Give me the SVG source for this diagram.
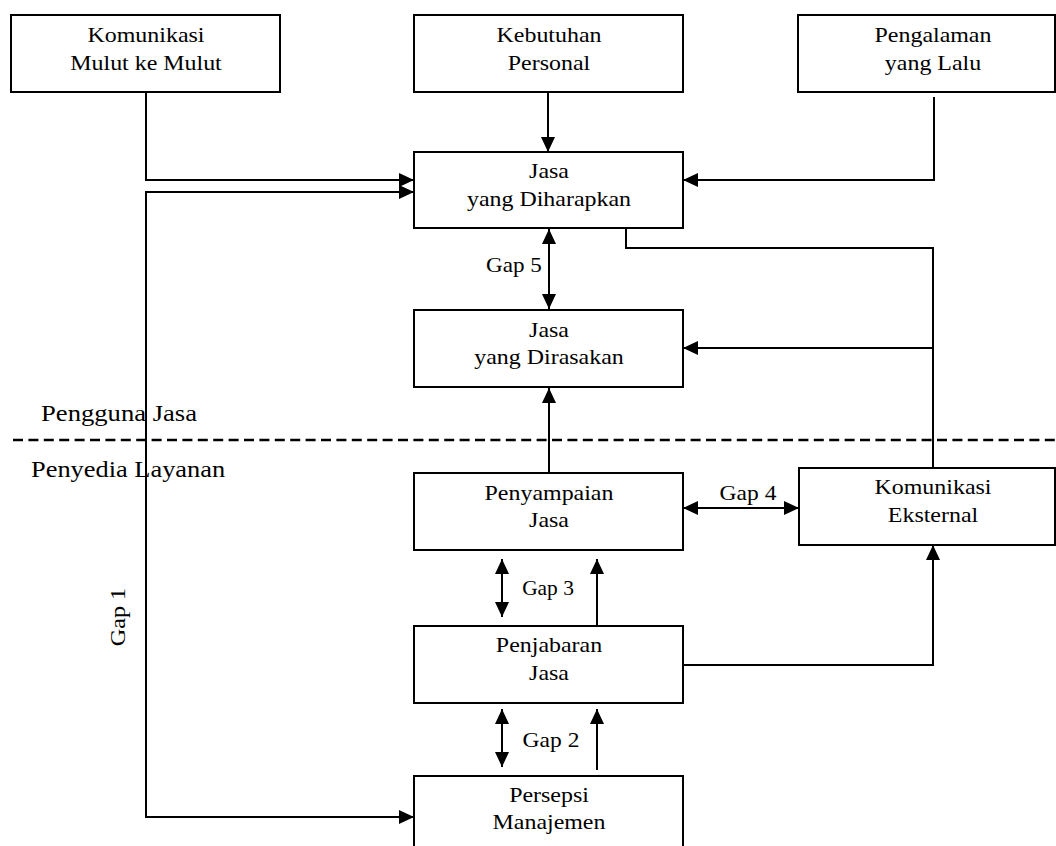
<svg xmlns="http://www.w3.org/2000/svg" width="1056" height="846" viewBox="0 0 1056 846">
<style>
.box{fill:#fff;stroke:#000;stroke-width:2}
.t{font-family:"Liberation Serif","Times New Roman",serif;font-size:21px;fill:#000;text-anchor:middle}
.l{font-family:"Liberation Serif","Times New Roman",serif;font-size:24px;fill:#000;text-anchor:start}
.c{fill:none;stroke:#000;stroke-width:2}
</style>
<defs>
<marker id="ah" viewBox="0 0 15 14" refX="15" refY="7" markerWidth="15" markerHeight="14" markerUnits="userSpaceOnUse" orient="auto-start-reverse">
<path d="M0,0 L15,7 L0,14 Z" fill="#000"/>
</marker>
</defs>
<rect width="1056" height="846" fill="#fff"/>

<g id="connectors">
<path class="c" d="M146,92 V180 H414" marker-end="url(#ah)"/>
<path class="c" d="M548,92 V152" marker-end="url(#ah)"/>
<path class="c" d="M934,97 V180 H683" marker-end="url(#ah)"/>
<path class="c" d="M414,192 H146 V817 H414" marker-start="url(#ah)" marker-end="url(#ah)"/>
<path class="c" d="M549,229 V309" marker-start="url(#ah)" marker-end="url(#ah)"/>
<path class="c" d="M549,473 V388" marker-end="url(#ah)"/>
<path class="c" d="M626,228 V248 H933 V468"/>
<path class="c" d="M933,348 H683" marker-end="url(#ah)"/>
<path class="c" d="M683,508 H799" marker-start="url(#ah)" marker-end="url(#ah)"/>
<path class="c" d="M502,559 V617" marker-start="url(#ah)" marker-end="url(#ah)"/>
<path class="c" d="M597,625 V559" marker-end="url(#ah)"/>
<path class="c" d="M502,709 V767" marker-start="url(#ah)" marker-end="url(#ah)"/>
<path class="c" d="M597,770 V709" marker-end="url(#ah)"/>
<path class="c" d="M683,665 H933 V545" marker-end="url(#ah)"/>
<path d="M13,440 H1056" fill="none" stroke="#000" stroke-width="2.5" stroke-dasharray="10 5.4"/>
</g>

<g id="labels">
<text class="t" transform="translate(514,272) scale(1.1,1)">Gap 5</text>
<text class="t" transform="translate(748,500) scale(1.12,1)">Gap 4</text>
<text class="t" transform="translate(548,595) scale(1.02,1)">Gap 3</text>
<text class="t" transform="translate(551,747) scale(1.12,1)">Gap 2</text>
<text class="t" transform="translate(125,617) rotate(-90) scale(1.15,1)">Gap 1</text>
<text class="l" transform="translate(41,421) scale(1.11,1)">Pengguna Jasa</text>
<text class="l" transform="translate(31,477) scale(1.1,1)">Penyedia Layanan</text>
</g>

<g id="komunikasi-mulut">
<rect class="box" x="11" y="15" width="269" height="77"/>
<text class="t" transform="translate(146,42) scale(1.14,1)">Komunikasi</text>
<text class="t" transform="translate(146,70) scale(1.14,1)">Mulut ke Mulut</text>
</g>
<g id="kebutuhan-personal">
<rect class="box" x="414" y="15" width="269" height="77"/>
<text class="t" transform="translate(549,42) scale(1.14,1)">Kebutuhan</text>
<text class="t" transform="translate(549,70) scale(1.14,1)">Personal</text>
</g>
<g id="pengalaman">
<rect class="box" x="798" y="15" width="257" height="77"/>
<text class="t" transform="translate(933,42) scale(1.14,1)">Pengalaman</text>
<text class="t" transform="translate(933,70) scale(1.14,1)">yang Lalu</text>
</g>
<g id="jasa-diharapkan">
<rect class="box" x="414" y="152" width="269" height="76"/>
<text class="t" transform="translate(549,178) scale(1.14,1)">Jasa</text>
<text class="t" transform="translate(549,206) scale(1.14,1)">yang Diharapkan</text>
</g>
<g id="jasa-dirasakan">
<rect class="box" x="414" y="310" width="269" height="77"/>
<text class="t" transform="translate(549,337) scale(1.14,1)">Jasa</text>
<text class="t" transform="translate(549,364) scale(1.14,1)">yang Dirasakan</text>
</g>
<g id="penyampaian-jasa">
<rect class="box" x="414" y="473" width="269" height="77"/>
<text class="t" transform="translate(549,500) scale(1.14,1)">Penyampaian</text>
<text class="t" transform="translate(549,527) scale(1.14,1)">Jasa</text>
</g>
<g id="komunikasi-eksternal">
<rect class="box" x="799" y="468" width="256" height="77"/>
<text class="t" transform="translate(933,494) scale(1.14,1)">Komunikasi</text>
<text class="t" transform="translate(933,522) scale(1.14,1)">Eksternal</text>
</g>
<g id="penjabaran-jasa">
<rect class="box" x="414" y="626" width="269" height="77"/>
<text class="t" transform="translate(549,652) scale(1.14,1)">Penjabaran</text>
<text class="t" transform="translate(549,680) scale(1.14,1)">Jasa</text>
</g>
<g id="persepsi-manajemen">
<rect class="box" x="414" y="776" width="269" height="77"/>
<text class="t" transform="translate(549,802) scale(1.14,1)">Persepsi</text>
<text class="t" transform="translate(549,829) scale(1.14,1)">Manajemen</text>
</g>
</svg>
